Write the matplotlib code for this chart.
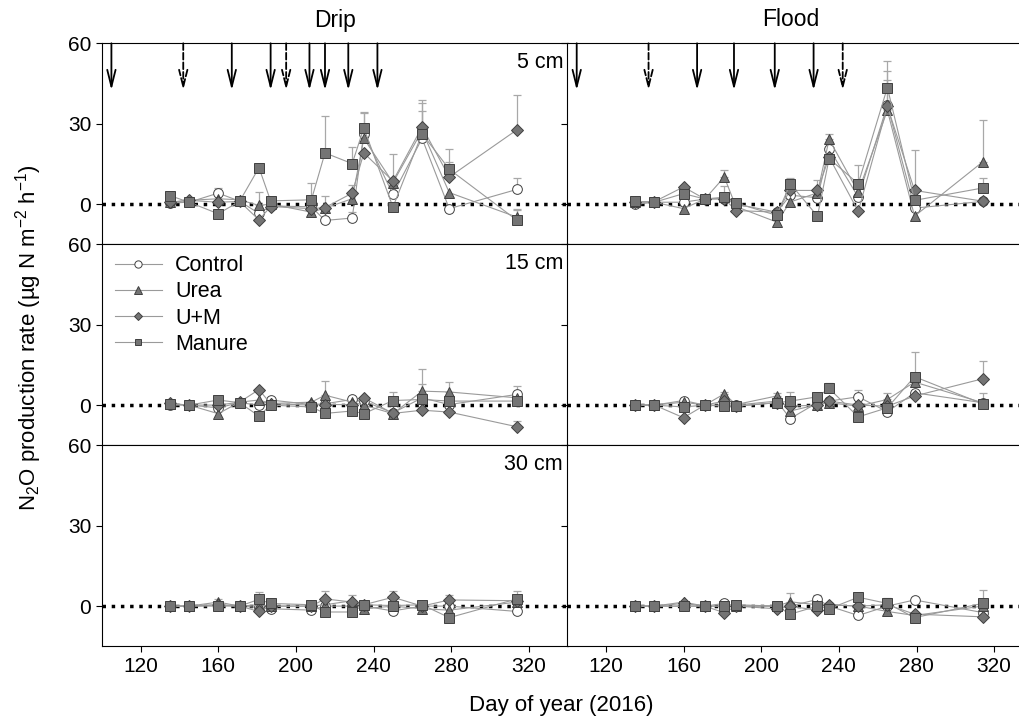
import matplotlib
matplotlib.use('Agg')
import matplotlib.pyplot as plt
import numpy as np

plt.rcParams['font.family'] = ['Liberation Sans', 'DejaVu Sans']
plt.rcParams['mathtext.fontset'] = 'custom'
plt.rcParams['mathtext.rm'] = 'Liberation Sans'
plt.rcParams['mathtext.it'] = 'Liberation Sans:italic'
plt.rcParams['xtick.direction'] = 'out'
plt.rcParams['ytick.direction'] = 'out'

# sampling days (day of year 2016)
days = [135, 145, 160, 171, 181, 187, 208, 215, 229, 235, 250, 265, 279, 314]
treatments = ['Control', 'Urea', 'U+M', 'Manure']

# N2O production rate, ug N m-2 h-1, and upper error bars
drip_5cm = {
    'Control': [0.4, 0.7, 4.1, 1.1, -3.5, -0.7, -1.0, -6.1, -5.2, 26.3, 3.6, 24.5, -1.7, 5.5],
    'Urea': [0.7, 1.4, 2.0, 1.6, -0.5, 0.0, -3.0, -1.5, 2.0, 24.5, 8.0, 27.4, 4.3, -4.9],
    'U+M': [0.7, 1.4, 0.7, 1.0, -5.9, -0.9, -1.7, -1.3, 4.1, 19.1, 8.6, 28.8, 10.1, 27.8],
    'Manure': [3.2, 0.7, -3.6, 1.0, 13.6, 1.2, 1.6, 19.1, 15.1, 28.4, -1.1, 26.3, 13.0, -6.1],
}
drip_5cm_err = {
    'Control': [0, 0, 2.0, 0, 0, 0, 0, 0, 2.2, 2.0, 0, 0, 0, 4.4],
    'Urea': [0, 0, 0, 0, 5.0, 0, 0, 4.6, 0, 10.0, 0, 10.5, 0, 3.0],
    'U+M': [0, 0, 0, 0, 0, 0, 0, 0, 3.0, 0, 10.0, 10.0, 5.6, 12.9],
    'Manure': [0, 0, 0, 0, 0, 0, 6.4, 13.7, 6.2, 5.6, 0, 8.5, 7.7, 4.0],
}
flood_5cm = {
    'Control': [-0.1, 0.7, 0.7, 1.9, 2.0, 0.0, -3.0, 3.3, 2.4, 20.7, 2.6, 36.9, -1.5, 1.0],
    'Urea': [0.8, 0.7, -1.7, 1.9, 10.1, -0.9, -6.7, 0.8, 4.2, 24.2, 4.5, 35.0, -4.5, 15.7],
    'U+M': [0.8, 0.9, 6.4, 1.9, 2.0, -2.4, -3.0, 5.1, 5.1, 17.5, -2.7, 36.5, 5.1, 1.1],
    'Manure': [1.1, 0.7, 3.9, 1.9, 2.6, 0.4, -4.2, 7.6, -4.5, 17.0, 7.6, 43.5, 1.4, 6.0],
}
flood_5cm_err = {
    'Control': [0, 0, 0, 0, 0, 0, 0, 0, 0, 2.0, 0, 12.7, 0, 0],
    'Urea': [0, 0, 0, 0, 2.5, 0, 0, 0, 0, 1.8, 0, 11.3, 0, 15.6],
    'U+M': [0, 0, 0, 0, 4.6, 0, 0, 0, 4.0, 0, 0, 0, 15.2, 0],
    'Manure': [0, 0, 0, 0, 0, 0, 0, 2.1, 0, 0, 6.9, 9.9, 0, 3.7],
}
drip_15cm = {
    'Control': [0, 0, -1.0, 0.9, 0.0, 1.9, 0.2, 0.5, 2.1, 1.5, -2.9, 2.7, 0.2, 4.0],
    'Urea': [0.5, 0, -3.2, 1.1, 1.9, 0.6, 1.1, 3.7, 1.1, 0, -3.2, 5.2, 4.9, 2.7],
    'U+M': [0.6, 0, 0, 1.1, 5.8, 0.5, 0, 0.2, 0.2, 2.7, -3.1, -1.9, -2.6, -8.1],
    'Manure': [0.5, 0, 1.9, 0.9, -4.1, 0, -0.7, -3.1, -2.2, -3.2, 1.7, 2.1, 1.5, 1.5],
}
drip_15cm_err = {
    'Control': [0, 0, 0, 0, 0, 0, 0, 0, 0, 0, 0, 0, 0, 3.1],
    'Urea': [0, 0, 0, 0, 0, 0, 0, 5.3, 0, 0, 0, 8.1, 3.7, 0],
    'U+M': [0, 0, 0, 0, 0, 0, 0, 0, 0, 0, 0, 0, 0, 2.0],
    'Manure': [0, 0, 0, 0, 0, 0, 0, 0, 0, 0, 3.2, 5.6, 0, 0],
}
flood_15cm = {
    'Control': [0, 0, 1.7, 0, 0, 0, 1.5, -5.0, 0.9, 1.5, 3.1, -2.5, 4.6, 0.9],
    'Urea': [0, 0, 1.1, 0, 4.2, 0.2, 3.4, -2.2, 0.2, 0.9, -0.4, 2.1, 8.6, 0.9],
    'U+M': [0, 0, -4.7, 0, 1.5, -0.4, 0.9, -0.4, 0, 1.5, 0, -0.4, 3.4, 9.8],
    'Manure': [0, 0, -0.7, 0, -0.4, -0.4, 0.9, 1.5, 3.1, 6.2, -4.4, -1.0, 10.6, 0.5],
}
flood_15cm_err = {
    'Control': [0, 0, 0, 0, 0, 0, 0, 0, 0, 0, 2.7, 0, 0, 0],
    'Urea': [0, 0, 0, 0, 0.8, 0, 1.0, 0, 0, 0, 0, 2.5, 0, 0],
    'U+M': [0, 0, 0, 0, 0, 0, 0, 0, 0, 0, 0, 0, 0, 6.6],
    'Manure': [0, 0, 0, 0, 0, 0, 0, 3.3, 0, 2.1, 0, 0, 9.4, 4.1],
}
drip_30cm = {
    'Control': [0, 0, 0.5, 0, -0.5, -1.0, -1.5, 0, 0, 0, -1.8, 0, 0, -2.0],
    'Urea': [0, 0, 1.5, 0, 0.5, 0, 0, 0.5, 2.0, -1.0, 0, -1.0, -1.5, 1.5],
    'U+M': [0, 0, 0.5, 0, -2.0, 0, 0, 2.7, 1.5, 0.5, 3.3, 0, 2.3, 2.0],
    'Manure': [0, 0, 0, 0, 2.5, 1.0, 0.5, -2.2, -2.2, 0.5, 0.2, 0.5, -4.3, 2.7],
}
drip_30cm_err = {
    'Control': [0] * 14,
    'Urea': [0, 0, 1.0, 0, 0, 0, 0, 0, 2.1, 0, 0, 0, 0, 0],
    'U+M': [0, 0, 0, 0, 0, 0, 0, 2.8, 0, 0, 2.3, 0, 1.9, 0],
    'Manure': [0, 0, 0, 0, 2.6, 0, 0, 0, 0, 0, 0, 0, 0, 3.0],
}
flood_30cm = {
    'Control': [0, 0, 0, 0, 1.0, 0, 0, 0, 2.5, 0, -3.5, 0, 2.3, -2.4],
    'Urea': [0, 0, 1.5, 0, 0, 0, 0, 1.6, 0.5, 0.5, 0, -2.0, -3.5, 0],
    'U+M': [0, 0, 1.0, 0, -2.5, 0, -1.0, 0, -1.6, 0.5, 0, 0.5, -3.0, -4.0],
    'Manure': [0, 0, 0, 0, 0, 0.5, 0, -3.0, 0, -1.0, 3.3, 1.0, -4.3, 1.0],
}
flood_30cm_err = {
    'Control': [0, 0, 0, 0, 0, 0, 0, 0, 1.7, 0, 0, 0, 0, 0],
    'Urea': [0, 0, 0, 0, 0, 0, 0, 3.3, 0, 0, 0, 0, 0, 0],
    'U+M': [0] * 14,
    'Manure': [0, 0, 0, 0, 0, 0, 0, 0, 0, 0, 0, 2.2, 0, 5.1],
}

# irrigation / fertilization events (arrows)
drip_arrows_solid = [105, 167, 187, 207, 215, 227, 242]
drip_arrows_dashed = [142, 195]
flood_arrows_solid = [105, 167, 186, 207, 227]
flood_arrows_dashed = [142, 242]

MARKERS = {
    'Control': dict(marker='o', mfc='white', ms=7),
    'Urea': dict(marker='^', mfc='#747474', ms=7),
    'U+M': dict(marker='D', mfc='#747474', ms=6),
    'Manure': dict(marker='s', mfc='#747474', ms=6.5),
}


def draw_panel(ax, values, errors):
    ax.axhline(0, color='black', ls=':', lw=2.5, zorder=1)
    x = np.array(days)
    for t in treatments:
        y = np.array(values[t], dtype=float)
        e = np.array(errors[t], dtype=float)
        m = e > 0
        if m.any():
            ax.errorbar(x[m], y[m], yerr=[np.zeros(m.sum()), e[m]], fmt='none',
                        ecolor='#a8a8a8', elinewidth=0.9, capsize=3, capthick=0.9, zorder=2)
        ax.plot(x, y, color='#9a9a9a', lw=0.8, mec='#404040', mew=0.7,
                zorder=3, label=t, **MARKERS[t])
    ax.set_xlim(100, 340)
    ax.set_ylim(-15, 60)
    ax.set_yticks([0, 30, 60])
    ax.set_xticks(range(120, 321, 40))
    ax.tick_params(labelsize=15, length=4, width=0.8)
    for s in ax.spines.values():
        s.set_linewidth(0.8)


def draw_arrows(ax, solid, dashed):
    for d, ls in [(d, '-') for d in solid] + [(d, '--') for d in dashed]:
        ax.annotate('', xy=(d, 42.5), xytext=(d, 60),
                    arrowprops=dict(arrowstyle='->,head_length=1.2,head_width=0.3',
                                    lw=1.3, ls=ls, color='black',
                                    shrinkA=0, shrinkB=0, mutation_scale=10))


W, H = 1019, 720
fig = plt.figure(figsize=(W / 100, H / 100), dpi=100)

left, mid, pw = 101.7, 567.0, 466.0
tops = [43.3, 244.3, 445.3]
ph = 201.0

panels = [
    (drip_5cm, drip_5cm_err, flood_5cm, flood_5cm_err, '5 cm'),
    (drip_15cm, drip_15cm_err, flood_15cm, flood_15cm_err, '15 cm'),
    (drip_30cm, drip_30cm_err, flood_30cm, flood_30cm_err, '30 cm'),
]

for i, (dv, de, fv, fe, depth) in enumerate(panels):
    y0 = 1 - (tops[i] + ph) / H
    axl = fig.add_axes([left / W, y0, pw / W, ph / H])
    axr = fig.add_axes([mid / W, y0, pw / W, ph / H])
    draw_panel(axl, dv, de)
    draw_panel(axr, fv, fe)
    axr.tick_params(labelleft=False)
    if i < 2:
        axl.tick_params(labelbottom=False)
        axr.tick_params(labelbottom=False)
    axl.text(0.99, 0.905, depth, transform=axl.transAxes, ha='right', va='center', fontsize=15.5)
    if i == 0:
        draw_arrows(axl, drip_arrows_solid, drip_arrows_dashed)
        draw_arrows(axr, flood_arrows_solid, flood_arrows_dashed)
    if i == 1:
        axl.legend(loc='upper left', bbox_to_anchor=(0.0, 1.01), frameon=False, fontsize=15.5,
                   handlelength=2.2, handletextpad=0.6, labelspacing=0.24,
                   borderaxespad=0.2, markerscale=0.75)

fig.text((left + pw / 2) / W, 1 - 20 / H, 'Drip', ha='center', va='center', fontsize=16.5)
fig.text(791 / W, 1 - 20 / H, 'Flood', ha='center', va='center', fontsize=16.5)
fig.text(561 / W, 1 - 705 / H, 'Day of year (2016)', ha='center', va='center', fontsize=16)
fig.text(29 / W, 1 - 338 / H, 'N$_2$O production rate (µg N m$^{-2}$ h$^{-1}$)',
         ha='center', va='center', rotation=90, fontsize=16)

fig.savefig('out.png', dpi=100)
